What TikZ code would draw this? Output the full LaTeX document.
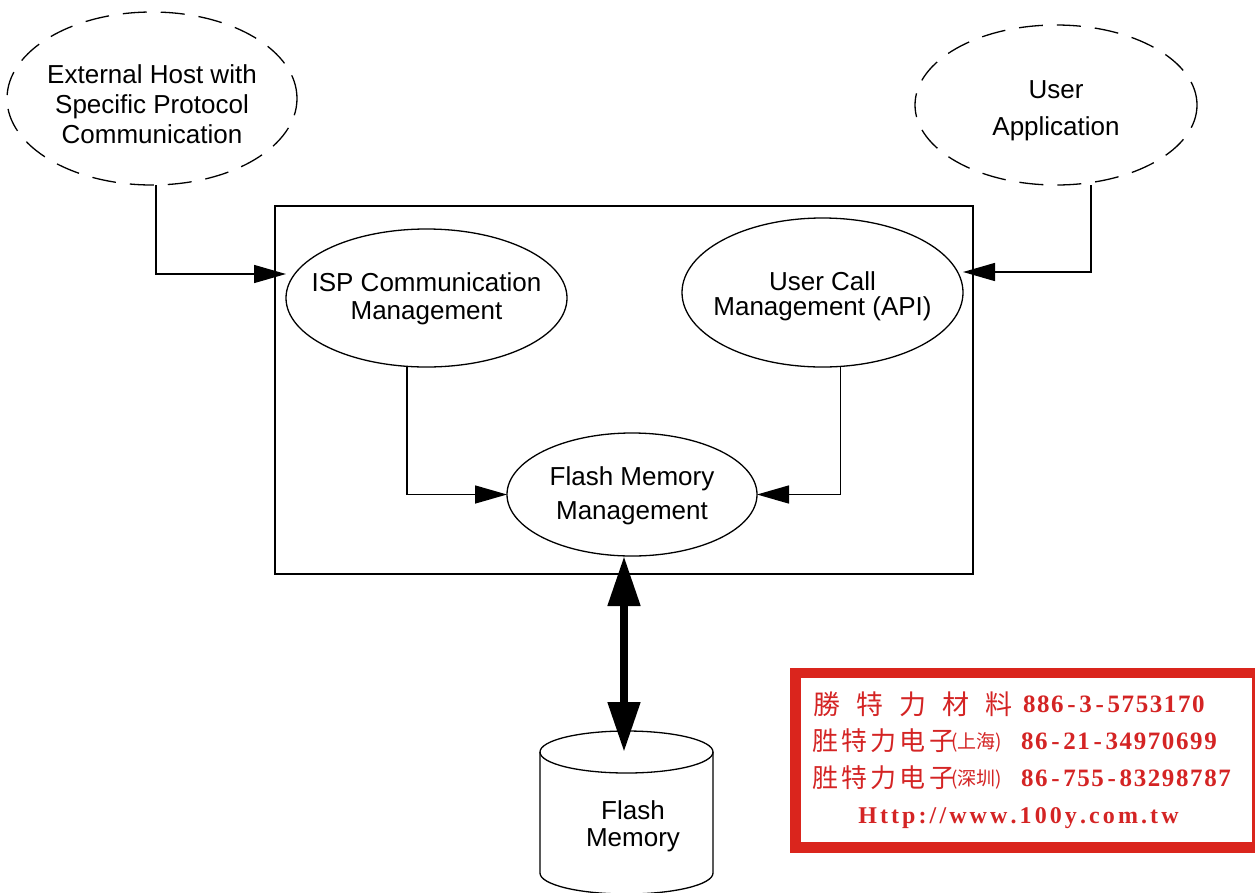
\documentclass[tikz,border=0pt]{standalone}
\usepackage{fontspec}
\setmainfont{Liberation Sans}
\newfontfamily\cjk{Noto Sans CJK TC}
\newfontfamily\numfont{Liberation Serif}
\usetikzlibrary{shapes.geometric,arrows.meta}
\definecolor{adred}{RGB}{218,37,29}
\definecolor{txtred}{RGB}{212,36,36}
\makeatletter
\newcommand\spreadchars[2]{\@tfor\sc@c:=#2\do{\makebox[#1][c]{\sc@c}}}
\newcommand\kernchars[2]{\@tfor\sc@c:=#2\do{\sc@c\kern#1}}
\makeatother
\begin{document}
\begin{tikzpicture}[x=1pt,y=-1pt,
  lbl/.style={font=\fontsize{26}{30}\selectfont, align=center},
  ell/.style={ellipse, draw, line width=1.3pt, inner sep=0pt, outer sep=0pt},
  dell/.style={ell, dash pattern=on 24pt off 14pt},
  conn/.style={line width=1.5pt, -{Triangle[length=32pt,width=18pt]}},
  big/.style={line width=8pt, {Triangle[length=50pt,width=31pt]}-{Triangle[length=50pt,width=31pt]}},
  adtext/.style={anchor=west, text=txtred, inner sep=0pt},
]
\useasboundingbox (0,0) rectangle (1255,892);

% outer dashed ellipses
\node[dell, minimum width=290pt, minimum height=173pt,
  label={[lbl, yshift=-5.5pt]center:External Host with\\Specific Protocol\\Communication}] (ext) at (152,98.5) {};
\node[dell, minimum width=282pt, minimum height=160pt,
  label={[lbl, yshift=-6pt]center:User\\[7pt]Application}] (ua) at (1056,105) {};

% system box
\node[draw, line width=1.3pt, minimum width=698pt, minimum height=368pt, inner sep=0pt] (box) at (624,390) {};

% inner ellipses
\node[ell, minimum width=281pt, minimum height=138pt,
  label={[lbl, yshift=-1pt]center:ISP Communication\\[-2pt]Management}] (isp) at (426.5,298) {};
\node[ell, minimum width=281pt, minimum height=149pt,
  label={[lbl, yshift=-4pt]center:User Call\\[-5pt]Management (API)}] (ucm) at (822.5,292.5) {};
\node[ell, minimum width=250pt, minimum height=123pt,
  label={[lbl, yshift=-1pt]center:Flash Memory\\[4pt]Management}] (fmm) at (632,494.5) {};

% connectors
\draw[conn] ([xshift=4pt]ext.south) |- ([yshift=24pt]isp.west);
\draw[conn] ([xshift=35pt]ua.south) |- ([yshift=20.5pt]ucm.east);
\draw[conn] ([xshift=-19.5pt]isp.south) |- (fmm.west);
\draw[conn] ([xshift=18pt]ucm.south) |- (fmm.east);

% flash memory cylinder
\draw[line width=1.3pt] (626.5,752) ellipse [x radius=86.5pt, y radius=21pt];
\draw[line width=1.3pt] (540,752) -- (540,873)
  arc[start angle=180, end angle=360, x radius=86.5pt, y radius=21pt] -- (713,752);
\coordinate (cyltop) at (624,752);
\node[lbl] (fm) at (633,826) {Flash\\[-3pt]Memory};

\draw[big] (cyltop) -- (cyltop |- fmm.south);

% red advertisement box
\node[draw=adred, fill=white, line width=10.5pt, minimum width=461.5pt, minimum height=174.5pt, inner sep=0pt] (ad) at (1026.25,760.25) {};

\node[adtext, font=\cjk\fontsize{27}{27}\selectfont] (r1a) at (805.5,704) {\spreadchars{42.9pt}{勝特力材料}};
\node[adtext, font=\numfont\bfseries\fontsize{25}{25}\selectfont] (r1b) at (1022,704) {\spreadchars{14.1pt}{886-3-5753170}};

\node[adtext, font=\cjk\fontsize{26}{26}\selectfont] (r2a) at (810.4,741) {\spreadchars{29.25pt}{胜特力电子}};
\node[adtext, font=\cjk\fontsize{19}{19}\selectfont] (r2c) at (951,742) {(上海)};
\node[adtext, font=\numfont\bfseries\fontsize{25}{25}\selectfont] (r2b) at (1020,741) {\spreadchars{14.1pt}{86-21-34970699}};

\node[adtext, font=\cjk\fontsize{26}{26}\selectfont] (r3a) at (810.4,778) {\spreadchars{29.25pt}{胜特力电子}};
\node[adtext, font=\cjk\fontsize{19}{19}\selectfont] (r3c) at (951,779) {(深圳)};
\node[adtext, font=\numfont\bfseries\fontsize{25}{25}\selectfont] (r3b) at (1020,778) {\spreadchars{14.1pt}{86-755-83298787}};

\node[text=txtred, inner sep=0pt, font=\numfont\bfseries\fontsize{24}{24}\selectfont] (r4) at (1020,818) {\kernchars{3.1pt}{Http://www.100y.com.tw}};
\end{tikzpicture}
\end{document}
